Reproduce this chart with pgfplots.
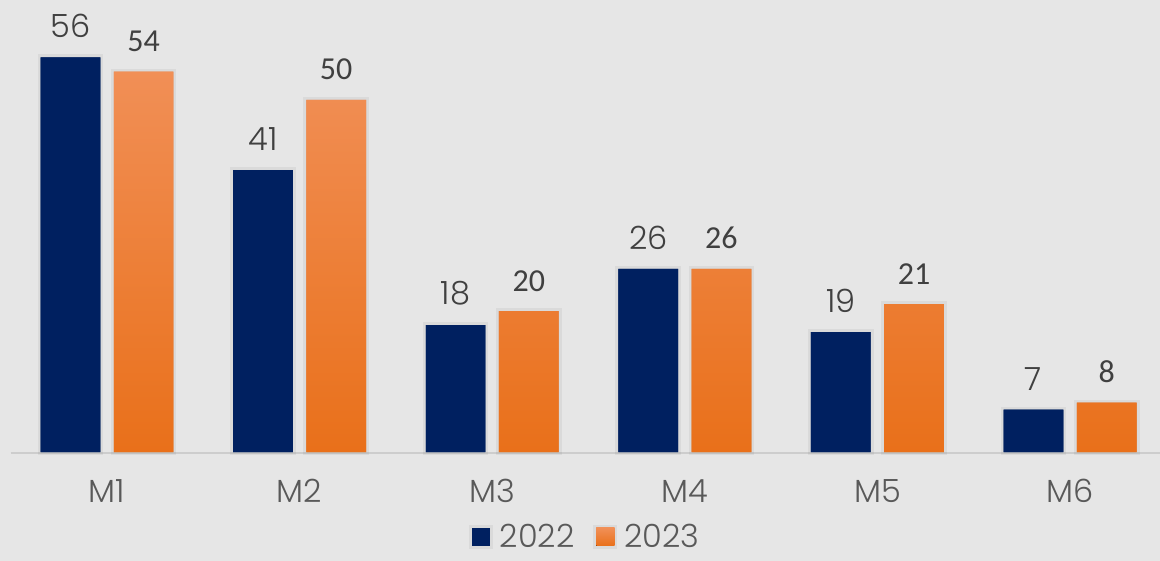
\documentclass[border=0pt]{standalone}
\usepackage{pgfplots}
\pgfplotsset{compat=1.18}
\usepackage{fontspec}
\setmainfont{Poppins}[UprightFont=* Light]
\newfontfamily\carlito{Carlito}
\definecolor{bg}{RGB}{230,230,230}
\definecolor{navy}{RGB}{0,32,96}
\definecolor{orTop}{RGB}{241,143,86}
\definecolor{orBot}{RGB}{233,112,26}
\definecolor{lab}{RGB}{64,64,64}
\definecolor{tick}{RGB}{89,89,89}
\definecolor{axl}{RGB}{205,205,205}
\begin{document}
\begin{tikzpicture}
\begin{axis}[
  scale only axis,
  width=580pt, height=280.5pt,
  xmin=-0.5556, xmax=5.467,
  ymin=-15.47, ymax=64.16,
  axis background/.style={fill=bg},
  axis line style={draw=none},
  tick style={draw=none},
  ytick=\empty,
  xtick={0,1,2,3,4,5},
  xticklabels={M1,M2,M3,M4,M5,M6},
  xticklabel style={anchor=center, yshift=35pt, font=\fontsize{16}{18}\selectfont, text=tick},
  clip=false,
  legend columns=2,
  legend style={at={(axis description cs:0.5065,0.0214)}, anchor=center, yshift=6pt, draw=none, fill=none,
    inner sep=0pt, font=\fontsize{16}{16}\selectfont, text=tick,
    /tikz/every even column/.append style={column sep=6pt},
    nodes={inner xsep=3.5pt, inner ysep=0pt}},
]
\draw[axl, line width=1pt] (axis cs:-0.5,-0.14) -- (axis cs:5.5,-0.14);
\addplot[ybar, bar width=0.31, bar shift=0pt, fill=navy, draw=none,
  preaction={draw=black, draw opacity=0.05, line width=3pt},
  point meta=explicit symbolic, nodes near coords,
  every node near coord/.append style={anchor=south, inner sep=0pt, yshift=9.6pt, text=lab, font=\fontsize{16}{18}\selectfont},
  legend image code/.code={\fill[navy] (0pt,-4.5pt) rectangle (9pt,4.5pt);}]
  table[x=x, y=y, meta=l] {
x y l
-0.19 56 56
0.81 40 41
1.81 18 18
2.81 26 26
3.81 17 19
4.81 6 7
};
\addlegendentry{2022}
\addplot[ybar, bar width=0.31, bar shift=0pt, top color=orTop, bottom color=orBot, draw=none,
  preaction={draw=black, draw opacity=0.05, line width=3pt},
  point meta=explicit symbolic, nodes near coords,
  every node near coord/.append style={anchor=south, inner sep=0pt, yshift=9.6pt, text=lab, font=\carlito\fontsize{16}{18}\selectfont},
  legend image code/.code={\fill[top color=orTop, bottom color=orBot] (0pt,-4.5pt) rectangle (9pt,4.5pt);}]
  table[x=x, y=y, meta=l] {
x y l
0.19 54 54
1.19 50 50
2.19 20 20
3.19 26 26
4.19 21 21
5.19 7 8
};
\addlegendentry{2023}
\end{axis}
\pgfresetboundingbox
\useasboundingbox (current axis.south west) rectangle (current axis.north east);
\end{tikzpicture}
\end{document}
